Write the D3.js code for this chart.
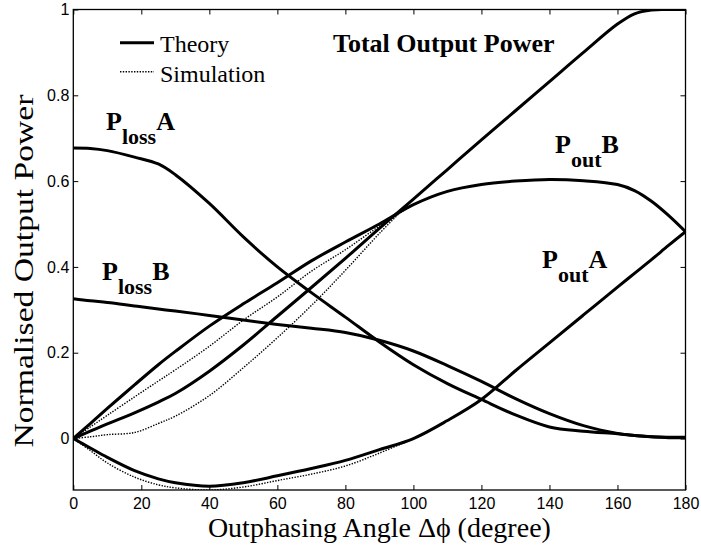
<!DOCTYPE html>
<html>
<head>
<meta charset="utf-8">
<script src="https://cdn.jsdelivr.net/npm/d3@7"></script>
<style>
  body { margin: 0; background: #fff; }
  .tick text { font-family: "Liberation Sans", Arial, sans-serif; font-size: 16px; fill: #000; }
  .lbl { font-family: "Liberation Serif", "Times New Roman", serif; fill: #000; }
</style>
</head>
<body>
<svg id="chart" width="701" height="548"></svg>
<script>
// sampled angles (degree) for the theory curves
const angles = [0, 5, 10, 18, 25, 30, 40, 50, 60, 70, 80, 90, 100, 110, 120, 130, 140, 150, 160, 165, 170, 175, 180];
const totalTheory = [0, 0.017, 0.034, 0.060, 0.085, 0.105, 0.157, 0.218, 0.285, 0.352, 0.420, 0.490, 0.558, 0.627, 0.696, 0.764, 0.832, 0.900, 0.966, 0.990, 0.999, 1.0, 1.0];
const poutBTheory = [0, 0.035, 0.070, 0.125, 0.172, 0.203, 0.262, 0.314, 0.363, 0.414, 0.458, 0.500, 0.545, 0.576, 0.592, 0.600, 0.604, 0.601, 0.592, 0.578, 0.553, 0.520, 0.482];
const poutATheory = [0, -0.022, -0.044, -0.075, -0.094, -0.103, -0.111, -0.103, -0.087, -0.070, -0.051, -0.026, 0.0, 0.042, 0.091, 0.158, 0.223, 0.288, 0.353, 0.385, 0.417, 0.450, 0.482];
const plossATheory = [0.677, 0.676, 0.671, 0.656, 0.640, 0.615, 0.548, 0.470, 0.400, 0.340, 0.283, 0.225, 0.172, 0.128, 0.091, 0.055, 0.027, 0.017, 0.011, 0.007, 0.004, 0.003, 0.003];
const plossBTheory = [0.326, 0.321, 0.317, 0.309, 0.302, 0.297, 0.287, 0.276, 0.266, 0.257, 0.247, 0.229, 0.204, 0.170, 0.133, 0.093, 0.058, 0.030, 0.012, 0.007, 0.004, 0.002, 0.002];

// simulation curves (they join the theory near 95-100 degree)
const simAngles = [0, 5, 10, 18, 25, 30, 40, 50, 60, 70, 80, 90, 100];
const totalSim = [0, 0.004, 0.009, 0.014, 0.035, 0.052, 0.100, 0.165, 0.235, 0.310, 0.392, 0.478, 0.558];
const poutBSim = [0, 0.027, 0.054, 0.097, 0.134, 0.160, 0.215, 0.276, 0.330, 0.390, 0.440, 0.495, 0.545];
const poutASim = [0, -0.028, -0.057, -0.090, -0.108, -0.115, -0.120, -0.113, -0.098, -0.083, -0.064, -0.034, 0.0];

const xTicks = [0, 20, 40, 60, 80, 100, 120, 140, 160, 180];
const yTicks = [0, 0.2, 0.4, 0.6, 0.8, 1];

const plotL = 73.3, plotR = 685.5, plotT = 9.5, plotB = 490;

const svg = d3.select("#chart");

const x = d3.scaleLinear().domain([0, 180]).range([plotL, plotR]);
const y = d3.scaleLinear().domain([-0.12, 1]).range([plotB, plotT]);

svg.append("defs").append("clipPath").attr("id", "plotclip")
  .append("rect")
    .attr("x", plotL).attr("y", plotT)
    .attr("width", plotR - plotL).attr("height", plotB - plotT);

// axes, MATLAB style box with inward ticks
const fmt = d => d3.format("~g")(d);

svg.append("g")
  .attr("transform", `translate(0,${plotB})`)
  .call(d3.axisBottom(x).tickValues(xTicks).tickFormat(fmt).tickSizeInner(-5).tickSizeOuter(0).tickPadding(8));

svg.append("g")
  .attr("transform", `translate(0,${plotT})`)
  .call(d3.axisTop(x).tickValues(xTicks).tickFormat("").tickSizeInner(-5).tickSizeOuter(0));

svg.append("g")
  .attr("transform", `translate(${plotL},0)`)
  .call(d3.axisLeft(y).tickValues(yTicks).tickFormat(fmt).tickSizeInner(-5).tickSizeOuter(0).tickPadding(4));

svg.append("g")
  .attr("transform", `translate(${plotR},0)`)
  .call(d3.axisRight(y).tickValues(yTicks).tickFormat("").tickSizeInner(-5).tickSizeOuter(0));

svg.selectAll(".domain").remove();
svg.selectAll(".tick line").attr("stroke", "#000").attr("stroke-width", 1);
svg.selectAll(".tick text").attr("font-size", null).attr("font-family", null);

svg.append("rect")
  .attr("x", plotL).attr("y", plotT)
  .attr("width", plotR - plotL).attr("height", plotB - plotT)
  .attr("fill", "none").attr("stroke", "#000").attr("stroke-width", 1.3);

// curves
const line = (xs, ys) => d3.line()
  .x((d, i) => x(xs[i]))
  .y(d => y(d))
  .curve(d3.curveCatmullRom.alpha(0.5))(ys);

const curves = svg.append("g").attr("clip-path", "url(#plotclip)");

[totalSim, poutBSim, poutASim].forEach(s => {
  curves.append("path")
    .attr("d", line(simAngles, s))
    .attr("fill", "none")
    .attr("stroke", "#000")
    .attr("stroke-width", 1.4)
    .attr("stroke-dasharray", "1.4,1.4");
});

[totalTheory, poutBTheory, poutATheory, plossATheory, plossBTheory].forEach(s => {
  curves.append("path")
    .attr("d", line(angles, s))
    .attr("fill", "none")
    .attr("stroke", "#000")
    .attr("stroke-width", 3)
    .attr("stroke-linejoin", "round");
});

// legend
svg.append("line")
  .attr("x1", 120).attr("x2", 154).attr("y1", 42.7).attr("y2", 42.7)
  .attr("stroke", "#000").attr("stroke-width", 3);
svg.append("line")
  .attr("x1", 120).attr("x2", 154).attr("y1", 71.7).attr("y2", 71.7)
  .attr("stroke", "#000").attr("stroke-width", 1.4).attr("stroke-dasharray", "1.4,1.4");
svg.append("text").attr("class", "lbl").attr("x", 160).attr("y", 52)
  .attr("font-size", 24).text("Theory");
svg.append("text").attr("class", "lbl").attr("x", 160).attr("y", 81.5)
  .attr("font-size", 24).text("Simulation");

svg.append("text").attr("class", "lbl").attr("x", 333).attr("y", 52)
  .attr("font-size", 26).attr("font-weight", "bold").text("Total Output Power");

// curve labels with subscripts
function subLabel(px, py, sub, tail) {
  const t = svg.append("text").attr("class", "lbl")
    .attr("x", px).attr("y", py)
    .attr("font-weight", "bold").attr("font-size", 26);
  t.append("tspan").text("P");
  t.append("tspan").attr("dy", 14).attr("font-size", 22).text(sub);
  t.append("tspan").attr("dy", -14).text(tail);
}
subLabel(106, 130, "loss", "A");
subLabel(102, 280, "loss", "B");
subLabel(555, 153, "out", "B");
subLabel(542, 268, "out", "A");

// axis titles
svg.append("text").attr("class", "lbl")
  .attr("x", (plotL + plotR) / 2).attr("y", 537)
  .attr("text-anchor", "middle").attr("font-size", 28)
  .text("Outphasing Angle \u0394\u03d5 (degree)");

svg.append("text").attr("class", "lbl")
  .attr("transform", "translate(33,271) rotate(-90)")
  .attr("text-anchor", "middle").attr("font-size", 27)
  .attr("textLength", 353).attr("lengthAdjust", "spacingAndGlyphs")
  .text("Normalised Output Power");
</script>
</body>
</html>
